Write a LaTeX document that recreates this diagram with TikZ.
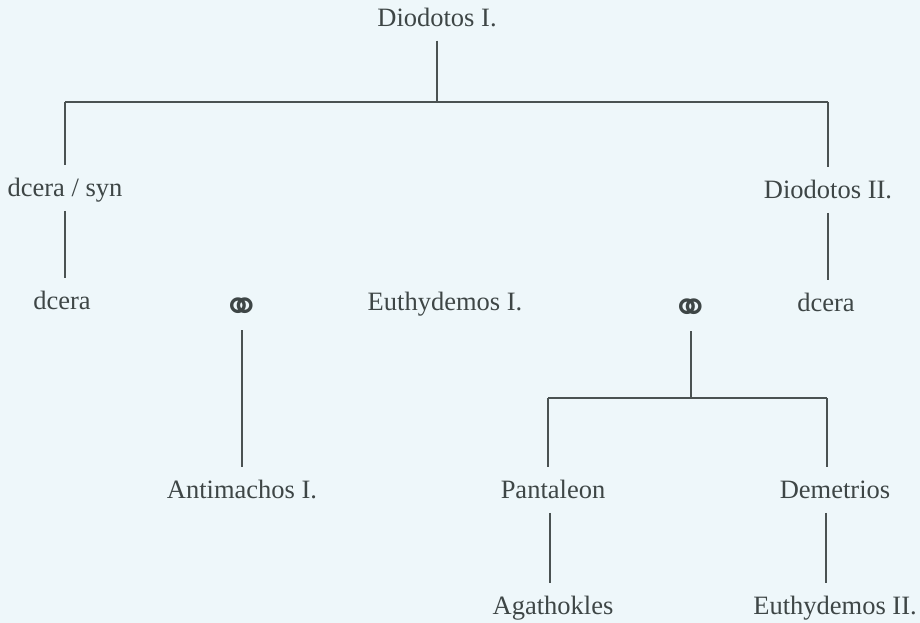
\documentclass[tikz,border=0pt]{standalone}
\usepackage{fontspec}
\setmainfont{Liberation Serif}
\newfontfamily\symfont{DejaVu Sans}
\definecolor{bgc}{HTML}{EEF7FA}
\definecolor{txc}{HTML}{3E4646}
\definecolor{lnc}{HTML}{4A5252}
\tikzset{
  lbl/.style={inner sep=0pt, text height=17.5pt, text depth=0pt, outer ysep=14pt,
    font=\fontsize{26.5}{30}\selectfont, text=txc},
  msym/.style={inner sep=0pt, outer ysep=8pt,
    font=\symfont\fontsize{46}{50}\selectfont, text=txc},
  conn/.style={draw=lnc, line width=1.4pt}
}
\begin{document}
\begin{tikzpicture}[x=1pt,y=-1pt]
\fill[bgc] (0,0) rectangle (920,623);
\useasboundingbox (0,0) rectangle (920,623);
% nodes
\node[lbl] (d1) at (437,18) {Diodotos I.};
\node[lbl] (ds) at (65,188) {dcera / syn};
\node[lbl] (d2) at (828,190) {Diodotos II.};
\node[lbl] (dc1) at (62,301) {dcera};
\node[msym] (m1) at (242,310) {⚭};
\node[lbl] (eu1) at (445,302) {Euthydemos I.};
\node[msym] (m2) at (691,311) {⚭};
\node[lbl] (dc2) at (826,303) {dcera};
\node[lbl] (am) at (242,490) {Antimachos I.};
\node[lbl] (pa) at (553,490) {Pantaleon};
\node[lbl] (de) at (835,490) {Demetrios};
\node[lbl] (ag) at (553,606) {Agathokles};
\node[lbl] (eu2) at (835,606) {Euthydemos II.};
% junctions
\coordinate (j0) at (437,102);
\coordinate (jl) at (65,102);
\coordinate (jr) at (828,102);
\coordinate (j2) at (691,398);
\coordinate (j2l) at (548,398);
\coordinate (j2r) at (827,398);
\coordinate (xp) at (550,0);
\coordinate (xd) at (826,0);
% connectors
\draw[conn] (d1.south) -- (j0);
\draw[conn] (jl) -- (jr);
\draw[conn] (jl) -- (jl |- ds.north);
\draw[conn] (jr) -- (jr |- d2.north);
\draw[conn] (jl |- ds.south) -- (jl |- dc1.north);
\draw[conn] (jr |- d2.south) -- (jr |- dc2.north);
\draw[conn] (m1.south) -- (m1.south |- am.north);
\draw[conn] (m2.south) -- (j2);
\draw[conn] (j2l) -- (j2r);
\draw[conn] (j2l) -- (j2l |- pa.north);
\draw[conn] (j2r) -- (j2r |- de.north);
\draw[conn] (xp |- pa.south) -- (xp |- ag.north);
\draw[conn] (xd |- de.south) -- (xd |- eu2.north);
\end{tikzpicture}
\end{document}
